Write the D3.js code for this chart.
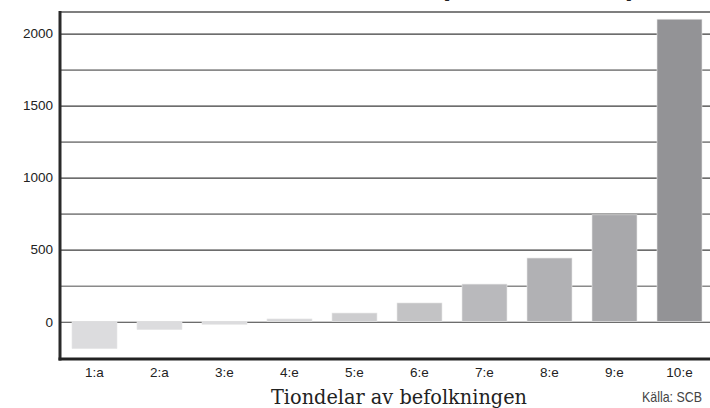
<!DOCTYPE html>
<html><head><meta charset="utf-8">
<script src="https://cdn.jsdelivr.net/npm/d3@7"></script>
<style>
html,body{margin:0;padding:0;background:#fff;}
svg{display:block;}
</style></head>
<body>
<svg id="chart" width="710" height="408"></svg>
<script>
const categories = ["1:a","2:a","3:e","4:e","5:e","6:e","7:e","8:e","9:e","10:e"];
const values = [-187, -55, -18, 19, 60, 130, 261, 442, 742, 2100];
const barColors = ["#dcdcde","#dcdcde","#dcdcde","#d6d6d8","#cdcdcf","#c3c3c5","#b9b9bc","#b1b1b4","#a8a8ab","#939396"];
const majorTicks = [0, 500, 1000, 1500, 2000];
const minorTicks = [250, 750, 1250, 1750];
const titleText = "(tusen kronor)";
const xTitle = "Tiondelar av befolkningen";
const source = "Källa: SCB";

(function () {
const svg = d3.select("#chart");
const mLeft = 60, mTop = 12, mBottom = 359;

const x = d3.scaleBand().domain(categories).range([62, 712]).paddingInner(0.3077).paddingOuter(0.1538);
const y = d3.scaleLinear().domain([-259, 2150]).range([mBottom, mTop]);

// title (mostly cut off at top, as in the reference)
svg.append("text").attr("x", 538).attr("y", -5).attr("text-anchor", "middle")
  .attr("font-family", "Liberation Sans, Arial, sans-serif").attr("font-weight", "bold")
  .attr("font-size", 29).attr("fill", "#222").text(titleText);

// minor gridlines
svg.append("g").attr("transform", `translate(${mLeft},0)`)
  .call(d3.axisLeft(y).tickValues(minorTicks).tickSize(-(710 - mLeft)).tickFormat(""))
  .call(g => g.select(".domain").remove())
  .call(g => g.selectAll("line").attr("stroke", "#8a8a8a").attr("stroke-width", 1.6));

// major gridlines
svg.append("g").attr("transform", `translate(${mLeft},0)`)
  .call(d3.axisLeft(y).tickValues(majorTicks).tickSize(-(710 - mLeft)).tickFormat(""))
  .call(g => g.select(".domain").remove())
  .call(g => g.selectAll("line").attr("stroke", "#3c3c3c").attr("stroke-width", 1.1));

// top border
svg.append("line").attr("x1", mLeft).attr("x2", 710).attr("y1", y(2150)).attr("y2", y(2150))
  .attr("stroke", "#555").attr("stroke-width", 1.5);

// bars
svg.append("g").selectAll("rect").data(values).join("rect")
  .attr("x", (d, i) => x(categories[i]))
  .attr("width", x.bandwidth())
  .attr("y", d => y(Math.max(0, d)))
  .attr("height", d => Math.abs(y(d) - y(0)))
  .attr("fill", (d, i) => barColors[i])
  .attr("stroke", "#e6e6e6").attr("stroke-width", 0.6);

// y labels
svg.append("g").attr("transform", `translate(${mLeft - 2},0)`)
  .call(d3.axisLeft(y).tickValues(majorTicks).tickSize(0).tickPadding(5).tickFormat(d3.format("d")))
  .call(g => g.select(".domain").remove())
  .call(g => g.selectAll("text").attr("font-family", "Liberation Sans, Arial, sans-serif")
    .attr("font-size", 13.5).attr("fill", "#222"));

// x labels
svg.append("g").attr("transform", `translate(0,${mBottom})`)
  .call(d3.axisBottom(x).tickSize(0).tickPadding(8))
  .call(g => g.select(".domain").remove())
  .call(g => g.selectAll("text").attr("font-family", "Liberation Sans, Arial, sans-serif")
    .attr("font-size", 13.5).attr("fill", "#222"));

// axes lines
svg.append("line").attr("x1", mLeft).attr("x2", mLeft).attr("y1", mTop - 1).attr("y2", mBottom + 1.5)
  .attr("stroke", "#2a2a2a").attr("stroke-width", 3);
svg.append("line").attr("x1", mLeft - 1.5).attr("x2", 710).attr("y1", mBottom).attr("y2", mBottom)
  .attr("stroke", "#222").attr("stroke-width", 3);

// x title
svg.append("text").attr("x", 399).attr("y", 404).attr("text-anchor", "middle")
  .attr("font-family", "DejaVu Serif, Liberation Serif, serif").attr("font-size", 20)
  .attr("fill", "#222").attr("textLength", 256).attr("lengthAdjust", "spacingAndGlyphs").text(xTitle);

// source
svg.append("text").attr("x", 702).attr("y", 402).attr("text-anchor", "end")
  .attr("font-family", "Liberation Sans Narrow, Liberation Sans, Arial, sans-serif")
  .attr("font-size", 15).attr("fill", "#444")
  .attr("textLength", 60).attr("lengthAdjust", "spacingAndGlyphs").text(source);
})();
</script>
</body></html>
